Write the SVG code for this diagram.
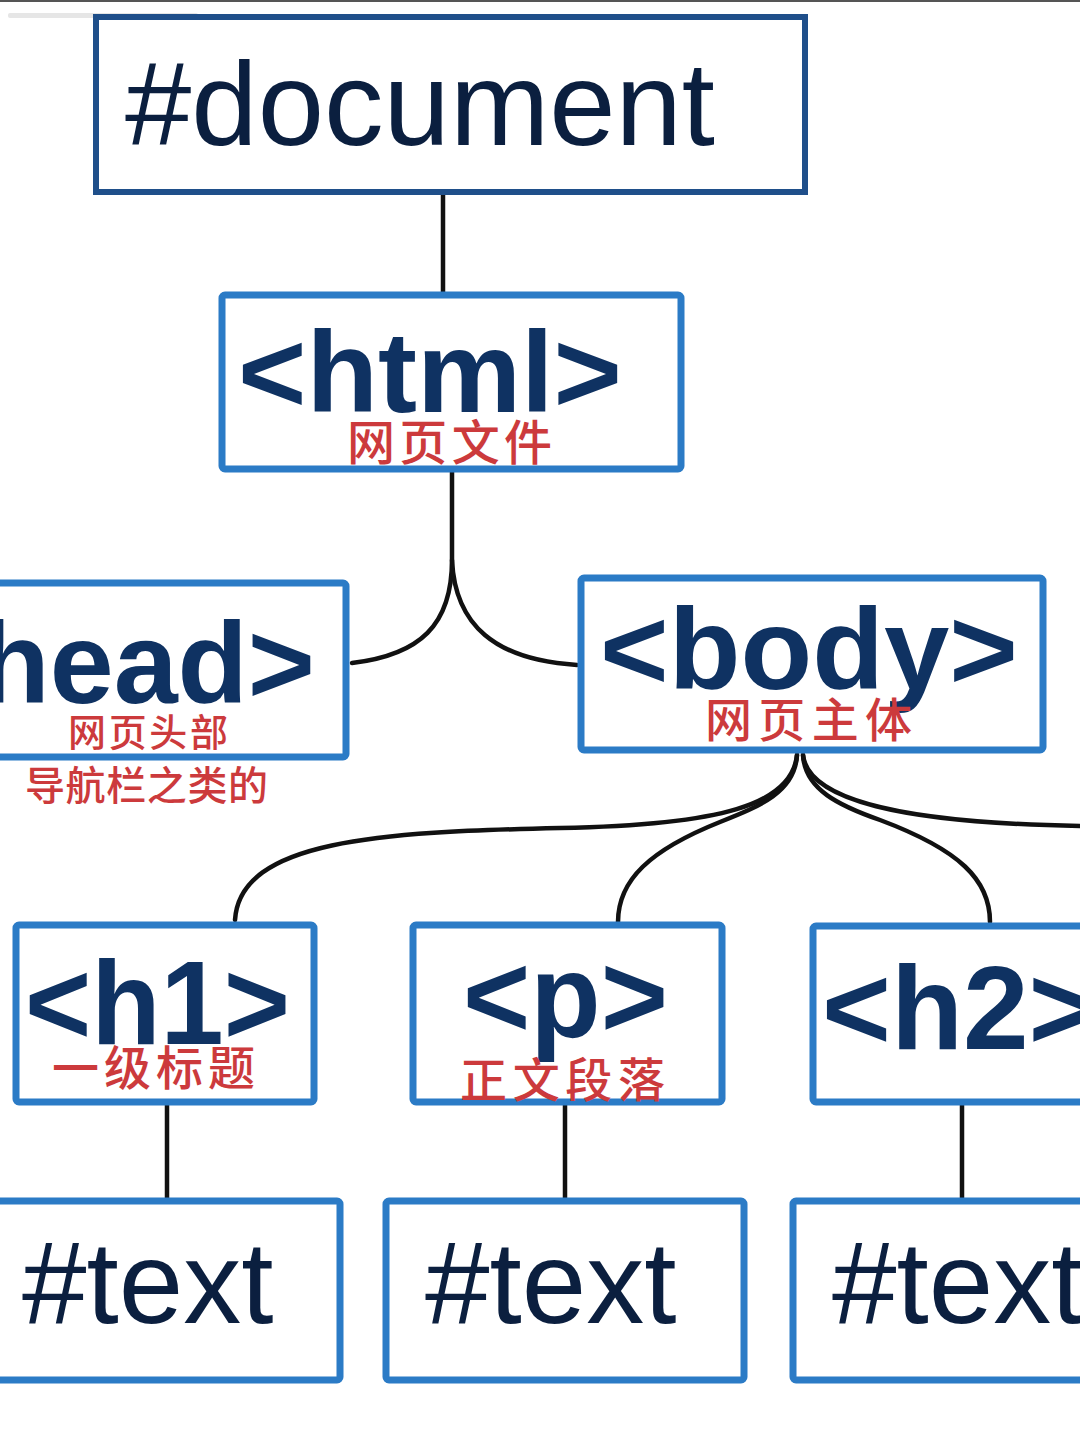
<svg xmlns="http://www.w3.org/2000/svg" width="1080" height="1433" viewBox="0 0 1080 1433">
<style>
.box{fill:#ffffff;stroke:#2b7bc6;stroke-width:7}
.doc{fill:#ffffff;stroke:#1f4f8a;stroke-width:6}
.tag{font-family:"Liberation Sans",Arial,sans-serif;font-weight:bold;fill:#0f3262}
.plain{font-family:"Liberation Sans",Arial,sans-serif;fill:#0b1f3f}
.zh{font-family:"Noto Sans CJK SC",sans-serif;font-weight:500;fill:#cc3a3c}
.wire{fill:none;stroke:#111111;stroke-width:4.5;stroke-linecap:round}
</style>
<rect x="0" y="0" width="1080" height="1433" fill="#ffffff"/>
<rect x="0" y="0" width="1080" height="2" fill="#555555"/>
<rect x="8" y="13" width="190" height="5" rx="2" fill="#e6e6e6"/>
<g id="connectors">
<path class="wire" d="M443,195 L443,292"/>
<path class="wire" d="M452,472 L452,560 C452,625 420,655 352,663"/>
<path class="wire" d="M452,560 C455,625 495,660 577,665"/>
<path class="wire" d="M797,755 C792,805 720,825 560,828 C380,832 240,840 235,920"/>
<path class="wire" d="M797,755 C795,792 760,806 720,822 C650,850 618,880 618,922"/>
<path class="wire" d="M803,755 C805,790 840,806 880,820 C960,850 990,880 990,922"/>
<path class="wire" d="M803,755 C808,800 900,823 1082,826"/>
<path class="wire" d="M167,1105 L167,1198"/>
<path class="wire" d="M565,1105 L565,1198"/>
<path class="wire" d="M962,1105 L962,1198"/>
</g>
<g id="document">
<rect class="doc" x="96" y="17" width="709" height="175"/>
<text class="plain" x="125" y="145" font-size="119" textLength="590" lengthAdjust="spacingAndGlyphs">#document</text>
</g>
<g id="html">
<rect class="box" x="222" y="295" width="459" height="174" rx="3"/>
<text class="tag" x="238" y="412" font-size="115" textLength="384" lengthAdjust="spacingAndGlyphs">&lt;html&gt;</text>
<text class="zh" x="347" y="460" font-size="48" textLength="205">网页文件</text>
</g>
<g id="head">
<rect class="box" x="-10" y="583" width="356" height="174" rx="3"/>
<text class="tag" x="315" y="703" font-size="115" text-anchor="end">head&gt;</text>
<text class="zh" x="68" y="746" font-size="38" textLength="160">网页头部</text>
<text class="zh" x="25" y="800" font-size="40" textLength="243">导航栏之类的</text>
</g>
<g id="body">
<rect class="box" x="581" y="578" width="462" height="172" rx="3"/>
<text class="tag" x="600" y="689" font-size="115" textLength="418" lengthAdjust="spacingAndGlyphs">&lt;body&gt;</text>
<text class="zh" x="705" y="737" font-size="47" textLength="207">网页主体</text>
</g>
<g id="h1">
<rect class="box" x="16" y="925" width="298" height="177" rx="3"/>
<text class="tag" x="25" y="1044" font-size="118" textLength="265" lengthAdjust="spacingAndGlyphs">&lt;h1&gt;</text>
<text class="zh" x="52" y="1085" font-size="47" textLength="203">一级标题</text>
</g>
<g id="p">
<rect class="box" x="413" y="925" width="309" height="177" rx="3"/>
<text class="tag" x="463" y="1037" font-size="118" textLength="205" lengthAdjust="spacingAndGlyphs">&lt;p&gt;</text>
<text class="zh" x="460" y="1097" font-size="47" textLength="205">正文段落</text>
</g>
<g id="h2">
<rect class="box" x="813" y="926" width="280" height="176" rx="3"/>
<text class="tag" x="822" y="1049" font-size="118">&lt;h2&gt;</text>
</g>
<g id="text1">
<rect class="box" x="-10" y="1201" width="350" height="179" rx="3"/>
<text class="plain" x="22" y="1323" font-size="116">#text</text>
</g>
<g id="text2">
<rect class="box" x="386" y="1201" width="358" height="179" rx="3"/>
<text class="plain" x="425" y="1323" font-size="116">#text</text>
</g>
<g id="text3">
<rect class="box" x="793" y="1201" width="300" height="179" rx="3"/>
<text class="plain" x="832" y="1323" font-size="116">#text</text>
</g>
</svg>
